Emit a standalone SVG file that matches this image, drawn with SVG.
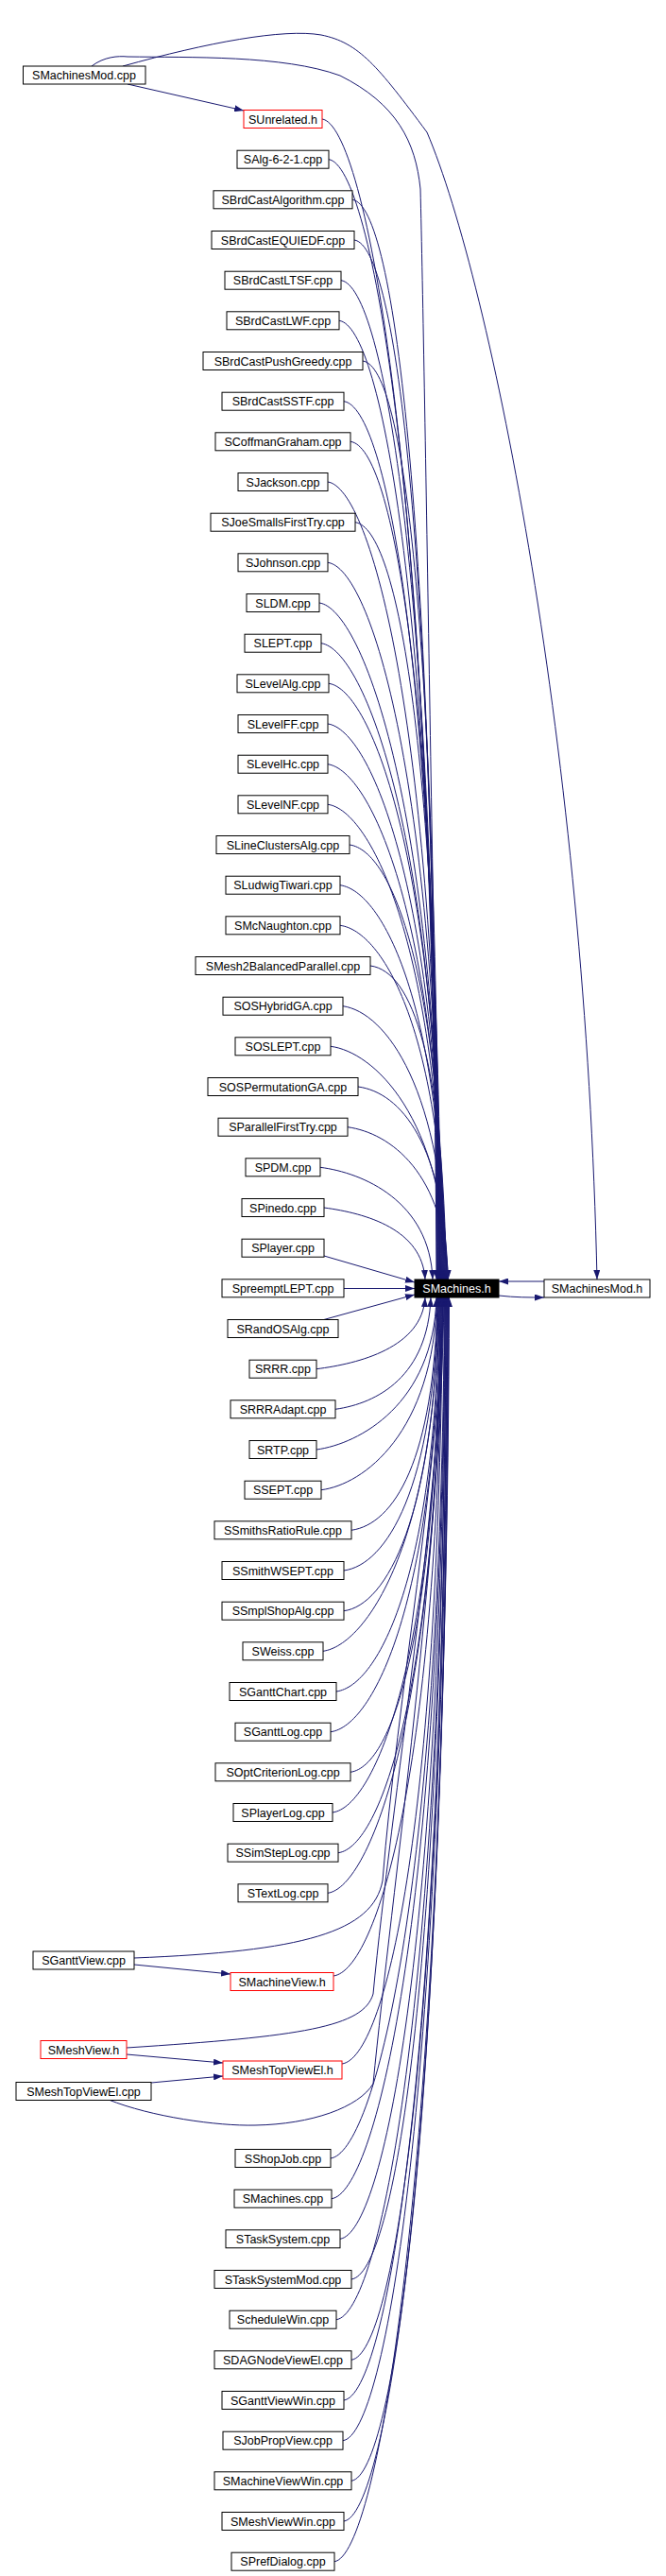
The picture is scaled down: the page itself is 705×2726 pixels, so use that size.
<svg xmlns="http://www.w3.org/2000/svg" width="705" height="2726" viewBox="0 0 705 2726">
<style>
rect{fill:#fff;stroke:#000;stroke-width:1}
.r rect{stroke:#f00}
text{font-family:"Liberation Sans",Arial,sans-serif;font-size:12.5px;text-anchor:middle;fill:#000}
#edges path{fill:none;stroke:#191970;stroke-width:1;marker-end:url(#a)}
</style>
<defs><marker id="a" markerUnits="userSpaceOnUse" markerWidth="10" markerHeight="7" refX="10" refY="3.5" orient="auto"><path d="M0,0L10,3.5L0,7z" fill="#191970"/></marker></defs>
<rect x="0" y="0" width="705" height="2726" style="stroke:none"/>
<g id="edges">
<path d="M135,89L258,117"/>
<path d="M97,70C110,60 125,59 135,60C200,61 300,58 360,80C420,110 440,150 445,200C450,400 460,1100 466,1354"/>
<path d="M130,70C220,45 300,30 340,37C380,45 400,70 452,140C520,300 620,800 632,1354"/>
<path d="M576,1356L528,1356"/>
<path d="M528,1371C545,1373 560,1373 576,1373"/>
<path d="M341,126C386,132 459,494 462,1354"/>
<path d="M348,168.7C393,175 459,524 462.5,1354"/>
<path d="M373,211.3C418,217 460,554 463,1354"/>
<path d="M375,254C420,260 460,584 463.5,1354"/>
<path d="M361,296.7C406,303 461,614 464,1354"/>
<path d="M359,339.3C404,345 461,644 464.5,1354"/>
<path d="M384,382C429,388 462,674 465,1354"/>
<path d="M364,424.7C409,431 462,704 465.5,1354"/>
<path d="M371,467.3C416,473 463,733 466,1354"/>
<path d="M347,510C392,516 463,763 466.5,1354"/>
<path d="M376,552.7C421,559 464,793 467,1354"/>
<path d="M347,595.3C392,601 464,823 467.5,1354"/>
<path d="M338,638C383,644 465,853 468,1354"/>
<path d="M340,680.7C385,687 465,883 468.5,1354"/>
<path d="M348,723.3C393,729 466,913 469,1354"/>
<path d="M347,766C392,772 466,942 469.5,1354"/>
<path d="M347,808.7C392,815 467,972 470,1354"/>
<path d="M347,851.3C392,857 467,1002 470.5,1354"/>
<path d="M370,894C415,900 468,1032 471,1354"/>
<path d="M360,936.7C405,943 468,1062 471.5,1354"/>
<path d="M360,979.3C405,985 469,1092 472,1354"/>
<path d="M392,1022C437,1028 469,1122 472.5,1354"/>
<path d="M363,1064.7C408,1071 470,1152 473,1354"/>
<path d="M350,1107.3C395,1113 470,1181 473.5,1354"/>
<path d="M379,1150C424,1156 471,1211 474,1354"/>
<path d="M368,1192.7C413,1199 471,1241 474.5,1354"/>
<path d="M339,1235.3C384,1241 455,1271 458,1354"/>
<path d="M343,1278C388,1284 447,1301 450,1354"/>
<path d="M343,1329L439,1357"/>
<path d="M364,1363.5L439,1363.5"/>
<path d="M341,1397L439,1370"/>
<path d="M335,1448.7C380,1443 447,1426 450,1373"/>
<path d="M355,1491.3C400,1485 453,1456 456,1373"/>
<path d="M335,1534C380,1528 459,1486 462,1373"/>
<path d="M340,1576.7C385,1571 459,1516 462.5,1373"/>
<path d="M372,1619.3C417,1613 460,1545 463,1373"/>
<path d="M364,1662C409,1656 460,1575 463.5,1373"/>
<path d="M364,1704.7C409,1699 461,1605 464,1373"/>
<path d="M342,1747.3C387,1741 461,1635 464.5,1373"/>
<path d="M356,1790C401,1784 462,1665 465,1373"/>
<path d="M350,1832.7C395,1827 462,1695 465.5,1373"/>
<path d="M371,1875.3C416,1869 463,1725 466,1373"/>
<path d="M352,1918C397,1912 463,1755 466.5,1373"/>
<path d="M358,1960.7C403,1955 464,1784 467,1373"/>
<path d="M347,2003.3C392,1997 464,1814 467.5,1373"/>
<path d="M142,2072C320,2065 395,2045 405,1990C420,1800 466,1550 469,1373"/>
<path d="M142,2079L244,2089"/>
<path d="M353,2091C398,2085 465,1876 468,1373"/>
<path d="M134,2167C320,2155 385,2145 395,2110C415,1900 466,1600 469.5,1373"/>
<path d="M134,2174L236,2183"/>
<path d="M160,2204L236,2197"/>
<path d="M362,2184C407,2178 465,1941 468.5,1373"/>
<path d="M115,2222C160,2240 230,2250 270,2249C330,2248 380,2230 395,2205C415,2000 466,1650 470,1373"/>
<path d="M350,2284C395,2278 467,2011 470.5,1373"/>
<path d="M351,2326.7C396,2321 468,2041 471,1373"/>
<path d="M360,2369.3C405,2363 468,2070 471.5,1373"/>
<path d="M372,2412C417,2406 469,2100 472,1373"/>
<path d="M356,2454.7C401,2449 469,2130 472.5,1373"/>
<path d="M372,2497.3C417,2491 470,2160 473,1373"/>
<path d="M364,2540C409,2534 470,2190 473.5,1373"/>
<path d="M363,2582.7C408,2577 471,2220 474,1373"/>
<path d="M372,2625.3C417,2619 471,2250 474.5,1373"/>
<path d="M364,2668C409,2662 472,2280 475,1373"/>
<path d="M354,2710.7C399,2705 472,2309 475.5,1373"/>
</g>
<g id="n_SMachines_h"><rect x="439" y="1354" width="89" height="19" style="fill:#000"/><text x="483.5" y="1368" style="fill:#fff">SMachines.h</text></g>
<g id="n_SMachinesMod_h"><rect x="576" y="1354" width="112" height="19"/><text x="632" y="1368">SMachinesMod.h</text></g>
<g id="n_SMachinesMod_cpp"><rect x="24.5" y="70" width="129.5" height="19"/><text x="89" y="84">SMachinesMod.cpp</text></g>
<g id="n_SUnrelated" class="r"><rect x="258" y="116.5" width="83" height="19"/><text x="299.5" y="130.5">SUnrelated.h</text></g>
<g id="n1"><rect x="251" y="159.2" width="97" height="19"/><text x="299.5" y="173.2">SAlg-6-2-1.cpp</text></g>
<g id="n2"><rect x="226" y="201.8" width="147" height="19"/><text x="299.5" y="215.8">SBrdCastAlgorithm.cpp</text></g>
<g id="n3"><rect x="224" y="244.5" width="151" height="19"/><text x="299.5" y="258.5">SBrdCastEQUIEDF.cpp</text></g>
<g id="n4"><rect x="238" y="287.2" width="123" height="19"/><text x="299.5" y="301.2">SBrdCastLTSF.cpp</text></g>
<g id="n5"><rect x="240" y="329.8" width="119" height="19"/><text x="299.5" y="343.8">SBrdCastLWF.cpp</text></g>
<g id="n6"><rect x="215" y="372.5" width="169" height="19"/><text x="299.5" y="386.5">SBrdCastPushGreedy.cpp</text></g>
<g id="n7"><rect x="235" y="415.2" width="129" height="19"/><text x="299.5" y="429.2">SBrdCastSSTF.cpp</text></g>
<g id="n8"><rect x="228" y="457.8" width="143" height="19"/><text x="299.5" y="471.8">SCoffmanGraham.cpp</text></g>
<g id="n9"><rect x="252" y="500.5" width="95" height="19"/><text x="299.5" y="514.5">SJackson.cpp</text></g>
<g id="n10"><rect x="223" y="543.2" width="153" height="19"/><text x="299.5" y="557.2">SJoeSmallsFirstTry.cpp</text></g>
<g id="n11"><rect x="252" y="585.8" width="95" height="19"/><text x="299.5" y="599.8">SJohnson.cpp</text></g>
<g id="n12"><rect x="261" y="628.5" width="77" height="19"/><text x="299.5" y="642.5">SLDM.cpp</text></g>
<g id="n13"><rect x="259" y="671.2" width="81" height="19"/><text x="299.5" y="685.2">SLEPT.cpp</text></g>
<g id="n14"><rect x="251" y="713.8" width="97" height="19"/><text x="299.5" y="727.8">SLevelAlg.cpp</text></g>
<g id="n15"><rect x="252" y="756.5" width="95" height="19"/><text x="299.5" y="770.5">SLevelFF.cpp</text></g>
<g id="n16"><rect x="252" y="799.2" width="95" height="19"/><text x="299.5" y="813.2">SLevelHc.cpp</text></g>
<g id="n17"><rect x="252" y="841.8" width="95" height="19"/><text x="299.5" y="855.8">SLevelNF.cpp</text></g>
<g id="n18"><rect x="229" y="884.5" width="141" height="19"/><text x="299.5" y="898.5">SLineClustersAlg.cpp</text></g>
<g id="n19"><rect x="239" y="927.2" width="121" height="19"/><text x="299.5" y="941.2">SLudwigTiwari.cpp</text></g>
<g id="n20"><rect x="239" y="969.8" width="121" height="19"/><text x="299.5" y="983.8">SMcNaughton.cpp</text></g>
<g id="n21"><rect x="207" y="1012.5" width="185" height="19"/><text x="299.5" y="1026.5">SMesh2BalancedParallel.cpp</text></g>
<g id="n22"><rect x="236" y="1055.2" width="127" height="19"/><text x="299.5" y="1069.2">SOSHybridGA.cpp</text></g>
<g id="n23"><rect x="249" y="1097.8" width="101" height="19"/><text x="299.5" y="1111.8">SOSLEPT.cpp</text></g>
<g id="n24"><rect x="220" y="1140.5" width="159" height="19"/><text x="299.5" y="1154.5">SOSPermutationGA.cpp</text></g>
<g id="n25"><rect x="231" y="1183.2" width="137" height="19"/><text x="299.5" y="1197.2">SParallelFirstTry.cpp</text></g>
<g id="n26"><rect x="260" y="1225.8" width="79" height="19"/><text x="299.5" y="1239.8">SPDM.cpp</text></g>
<g id="n27"><rect x="256" y="1268.5" width="87" height="19"/><text x="299.5" y="1282.5">SPinedo.cpp</text></g>
<g id="n28"><rect x="256" y="1311.2" width="87" height="19"/><text x="299.5" y="1325.2">SPlayer.cpp</text></g>
<g id="n29"><rect x="235" y="1353.8" width="129" height="19"/><text x="299.5" y="1367.8">SpreemptLEPT.cpp</text></g>
<g id="n30"><rect x="241" y="1396.5" width="117" height="19"/><text x="299.5" y="1410.5">SRandOSAlg.cpp</text></g>
<g id="n31"><rect x="264" y="1439.2" width="71" height="19"/><text x="299.5" y="1453.2">SRRR.cpp</text></g>
<g id="n32"><rect x="244" y="1481.8" width="111" height="19"/><text x="299.5" y="1495.8">SRRRAdapt.cpp</text></g>
<g id="n33"><rect x="264" y="1524.5" width="71" height="19"/><text x="299.5" y="1538.5">SRTP.cpp</text></g>
<g id="n34"><rect x="259" y="1567.2" width="81" height="19"/><text x="299.5" y="1581.2">SSEPT.cpp</text></g>
<g id="n35"><rect x="227" y="1609.8" width="145" height="19"/><text x="299.5" y="1623.8">SSmithsRatioRule.cpp</text></g>
<g id="n36"><rect x="235" y="1652.5" width="129" height="19"/><text x="299.5" y="1666.5">SSmithWSEPT.cpp</text></g>
<g id="n37"><rect x="235" y="1695.2" width="129" height="19"/><text x="299.5" y="1709.2">SSmplShopAlg.cpp</text></g>
<g id="n38"><rect x="257" y="1737.8" width="85" height="19"/><text x="299.5" y="1751.8">SWeiss.cpp</text></g>
<g id="n39"><rect x="243" y="1780.5" width="113" height="19"/><text x="299.5" y="1794.5">SGanttChart.cpp</text></g>
<g id="n40"><rect x="249" y="1823.2" width="101" height="19"/><text x="299.5" y="1837.2">SGanttLog.cpp</text></g>
<g id="n41"><rect x="228" y="1865.8" width="143" height="19"/><text x="299.5" y="1879.8">SOptCriterionLog.cpp</text></g>
<g id="n42"><rect x="247" y="1908.5" width="105" height="19"/><text x="299.5" y="1922.5">SPlayerLog.cpp</text></g>
<g id="n43"><rect x="241" y="1951.2" width="117" height="19"/><text x="299.5" y="1965.2">SSimStepLog.cpp</text></g>
<g id="n44"><rect x="252" y="1993.8" width="95" height="19"/><text x="299.5" y="2007.8">STextLog.cpp</text></g>
<g id="n_SGanttView_cpp"><rect x="35" y="2065" width="107" height="19"/><text x="88.5" y="2079">SGanttView.cpp</text></g>
<g id="n_SMachineView_h" class="r"><rect x="244" y="2087.5" width="109" height="19"/><text x="298.5" y="2101.5">SMachineView.h</text></g>
<g id="n_SMeshView_h" class="r"><rect x="43" y="2159.5" width="91" height="19"/><text x="88.5" y="2173.5">SMeshView.h</text></g>
<g id="n_SMeshTopViewEl_h" class="r"><rect x="236" y="2181" width="126" height="19"/><text x="299" y="2195">SMeshTopViewEl.h</text></g>
<g id="n_SMeshTopViewEl_cpp"><rect x="17" y="2203.5" width="143" height="19"/><text x="88.5" y="2217.5">SMeshTopViewEl.cpp</text></g>
<g id="b0"><rect x="249" y="2274.5" width="101" height="19"/><text x="299.5" y="2288.5">SShopJob.cpp</text></g>
<g id="b1"><rect x="248" y="2317.2" width="103" height="19"/><text x="299.5" y="2331.2">SMachines.cpp</text></g>
<g id="b2"><rect x="239" y="2359.8" width="121" height="19"/><text x="299.5" y="2373.8">STaskSystem.cpp</text></g>
<g id="b3"><rect x="227" y="2402.5" width="145" height="19"/><text x="299.5" y="2416.5">STaskSystemMod.cpp</text></g>
<g id="b4"><rect x="243" y="2445.2" width="113" height="19"/><text x="299.5" y="2459.2">ScheduleWin.cpp</text></g>
<g id="b5"><rect x="227" y="2487.8" width="145" height="19"/><text x="299.5" y="2501.8">SDAGNodeViewEl.cpp</text></g>
<g id="b6"><rect x="235" y="2530.5" width="129" height="19"/><text x="299.5" y="2544.5">SGanttViewWin.cpp</text></g>
<g id="b7"><rect x="236" y="2573.2" width="127" height="19"/><text x="299.5" y="2587.2">SJobPropView.cpp</text></g>
<g id="b8"><rect x="227" y="2615.8" width="145" height="19"/><text x="299.5" y="2629.8">SMachineViewWin.cpp</text></g>
<g id="b9"><rect x="235" y="2658.5" width="129" height="19"/><text x="299.5" y="2672.5">SMeshViewWin.cpp</text></g>
<g id="b10"><rect x="245" y="2701.2" width="109" height="19"/><text x="299.5" y="2715.2">SPrefDialog.cpp</text></g>
</svg>
